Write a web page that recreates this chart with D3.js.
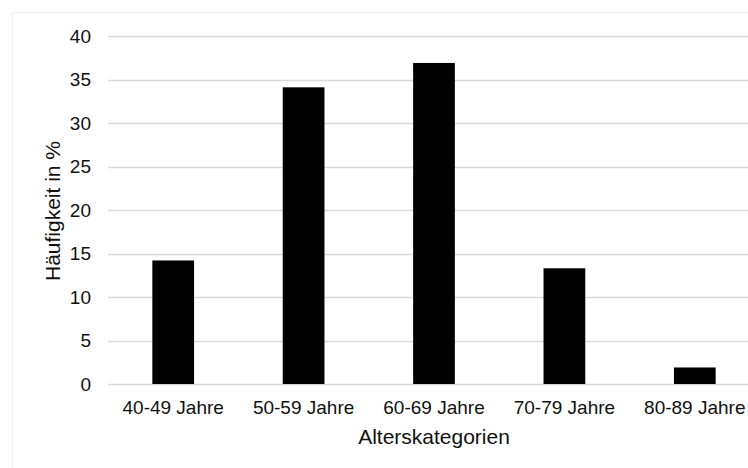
<!DOCTYPE html>
<html>
<head>
<meta charset="utf-8">
<script src="https://cdn.jsdelivr.net/npm/d3@7"></script>
<style>
  html, body { margin: 0; padding: 0; background: #fff; }
  svg { display: block; }
  text { font-family: "Liberation Sans", Arial, sans-serif; fill: #111; }
</style>
</head>
<body>
<svg id="chart" width="748" height="468"></svg>
<script>
// Altersverteilung (Häufigkeit in %)
const categories = ["40-49 Jahre", "50-59 Jahre", "60-69 Jahre", "70-79 Jahre", "80-89 Jahre"];
const values = [14.2, 34.1, 36.9, 13.3, 1.9];
const yTicks = [0, 5, 10, 15, 20, 25, 30, 35, 40];
const xTitle = "Alterskategorien";
const yTitle = "Häufigkeit in %";

const svg = d3.select("#chart");

// faint chart-area frame
svg.append("rect")
  .attr("x", 12.5).attr("y", 12.5)
  .attr("width", 800).attr("height", 500)
  .attr("fill", "none")
  .attr("stroke", "#efefef");

const plot = { left: 108, right: 760, top: 36, bottom: 384 };

const x = d3.scaleBand()
  .domain(categories)
  .range([plot.left, plot.right])
  .paddingInner(0.68)
  .paddingOuter(0.34);

const y = d3.scaleLinear()
  .domain([0, 40])
  .range([plot.bottom, plot.top]);

// horizontal gridlines
svg.append("g")
  .selectAll("line")
  .data(yTicks)
  .join("line")
  .attr("x1", plot.left)
  .attr("x2", plot.right)
  .attr("y1", d => Math.round(y(d)) + 0.5)
  .attr("y2", d => Math.round(y(d)) + 0.5)
  .attr("stroke", "#d9d9d9")
  .attr("stroke-width", 1.5);

// y axis tick labels
const yAxis = d3.axisLeft(y).tickValues(yTicks).tickSize(0).tickPadding(17);
svg.append("g")
  .attr("transform", `translate(${plot.left},0)`)
  .call(yAxis)
  .call(g => g.select(".domain").remove())
  .call(g => g.selectAll("text")
    .attr("font-size", 19)
    .attr("font-family", "Liberation Sans, Arial, sans-serif")
    .attr("fill", "#111"));

// bars
svg.append("g")
  .selectAll("rect")
  .data(categories.map((c, i) => ({ c, v: values[i] })))
  .join("rect")
  .attr("x", d => x(d.c))
  .attr("width", x.bandwidth())
  .attr("y", d => y(d.v))
  .attr("height", d => y(0) - y(d.v))
  .attr("fill", "#000");

// x axis tick labels
const xAxis = d3.axisBottom(x).tickSize(0).tickPadding(17);
svg.append("g")
  .attr("transform", `translate(0,${plot.bottom})`)
  .call(xAxis)
  .call(g => g.select(".domain").remove())
  .call(g => g.selectAll("text")
    .attr("font-size", 19)
    .attr("font-family", "Liberation Sans, Arial, sans-serif")
    .attr("fill", "#111"));

// axis titles
svg.append("text")
  .attr("x", (plot.left + 760) / 2 + 0)
  .attr("y", 444)
  .attr("text-anchor", "middle")
  .attr("font-size", 21)
  .text(xTitle);

svg.append("text")
  .attr("transform", "translate(60,211) rotate(-90)")
  .attr("text-anchor", "middle")
  .attr("font-size", 21)
  .text(yTitle);
</script>
</body>
</html>
